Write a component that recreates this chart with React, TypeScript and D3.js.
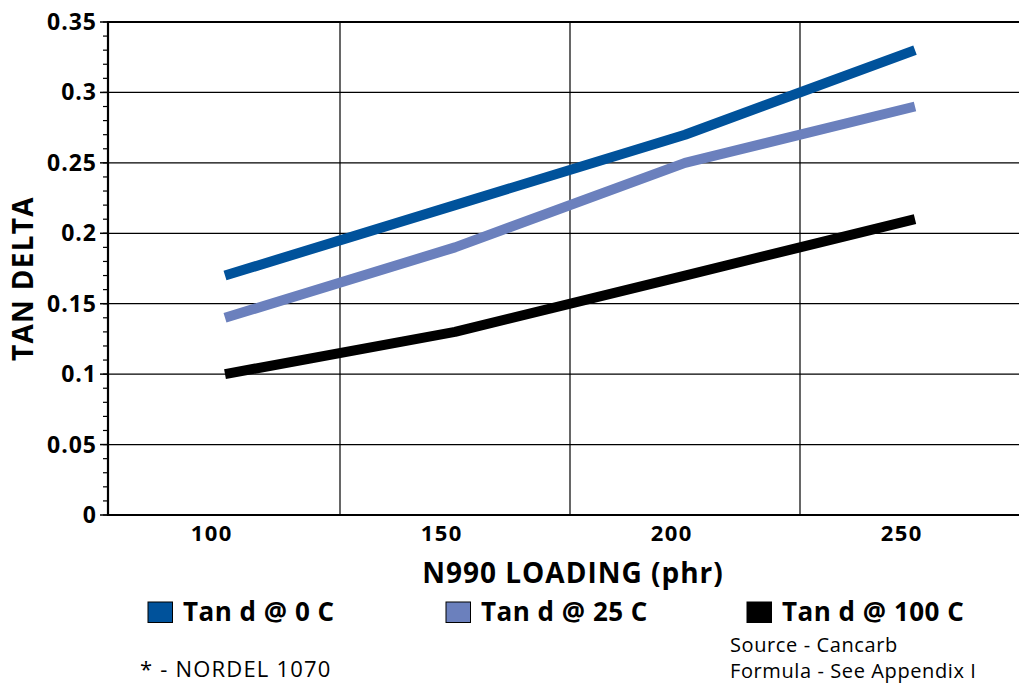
import React from "react";
import * as d3 from "d3";

const categories = ["100", "150", "200", "250"];
const tan0 = [0.17, 0.22, 0.27, 0.33];
const tan25 = [0.14, 0.19, 0.25, 0.29];
const tan100 = [0.1, 0.13, 0.17, 0.21];
const yTicks = [0, 0.05, 0.1, 0.15, 0.2, 0.25, 0.3, 0.35];
const yTickLabels = ["0", "0.05", "0.1", "0.15", "0.2", "0.25", "0.3", "0.35"];
const seriesNames = ["Tan d @ 0 C", "Tan d @ 25 C", "Tan d @ 100 C"];
const seriesColors = ["#00529b", "#6b80bd", "#000000"];

const W = 1019;
const H = 686;
const FONT = "'Open Sans', 'Liberation Sans', Arial, sans-serif";

export default function App() {
  const left = 108;
  const top = 22;
  const bottom = 515;
  const x = d3.scaleBand<string>().domain(categories).range([110, 1030]);
  const y = d3.scaleLinear().domain([0, 0.35]).range([bottom, top]);
  const line = d3
    .line<number>()
    .x((_, i) => (x(categories[i]) as number) + x.bandwidth() / 2)
    .y((d) => y(d));
  const series = [tan0, tan25, tan100];
  const minor = d3.range(0, 36).map((i) => i * 0.01);
  const legendX = [148, 446, 747];
  const tickLS = 1;
  const xLS = 1.5;

  return (
    <svg
      width={W}
      height={H}
      style={{ position: "absolute", left: 0, top: 0, background: "#fff" }}
      fontFamily={FONT}
    >
      <rect x={0} y={0} width={W} height={H} fill="#fff" />
      {yTicks.slice(1).map((t) => (
        <line key={t} x1={left} x2={W} y1={y(t)} y2={y(t)} stroke="#000" strokeWidth={1.2} />
      ))}
      {categories.slice(1).map((c) => (
        <line key={c} x1={x(c)} x2={x(c)} y1={top} y2={bottom} stroke="#000" strokeWidth={1.2} />
      ))}
      <line x1={left} x2={W} y1={top} y2={top} stroke="#000" strokeWidth={2} />
      <line x1={left} x2={left} y1={top - 1} y2={bottom + 1} stroke="#000" strokeWidth={2.2} />
      <line x1={left - 1} x2={W} y1={bottom} y2={bottom} stroke="#000" strokeWidth={2.2} />
      {minor.map((t, i) => (
        <line key={i} x1={left - 5} x2={left} y1={y(t)} y2={y(t)} stroke="#000" strokeWidth={1.2} />
      ))}
      {yTicks.map((t, i) => (
        <g key={t}>
          <line x1={left - 8} x2={left} y1={y(t)} y2={y(t)} stroke="#000" strokeWidth={1.5} />
          <text
            x={96 + tickLS}
            y={y(t) + 8}
            textAnchor="end"
            fontSize={23}
            fontWeight="bold"
            letterSpacing={tickLS}
          >
            {yTickLabels[i]}
          </text>
        </g>
      ))}
      {categories.map((c) => (
        <text
          key={c}
          x={(x(c) as number) + x.bandwidth() / 2 - 14 + xLS / 2}
          y={541}
          textAnchor="middle"
          fontSize={22}
          fontWeight="bold"
          letterSpacing={xLS}
        >
          {c}
        </text>
      ))}
      {series.map((s, i) => (
        <path
          key={i}
          d={line(s) as string}
          fill="none"
          stroke={seriesColors[i]}
          strokeWidth={10}
          strokeLinejoin="round"
        />
      ))}
      <text
        x={572.5 + 0.5}
        y={583}
        textAnchor="middle"
        fontSize={28}
        fontWeight="bold"
        letterSpacing={1}
      >
        N990 LOADING (phr)
      </text>
      <text
        transform={`translate(33,${278 + 0.6}) rotate(-90)`}
        textAnchor="middle"
        fontSize={28}
        fontWeight="bold"
        letterSpacing={1.3}
      >
        TAN DELTA
      </text>
      {seriesNames.map((n, i) => (
        <g key={n}>
          <rect
            x={legendX[i]}
            y={602}
            width={24.5}
            height={20.5}
            fill={seriesColors[i]}
            stroke="#000"
            strokeWidth={1}
          />
          <text
            x={legendX[i] + 35}
            y={621}
            fontSize={26}
            fontWeight="bold"
            letterSpacing={0.5}
          >
            {n}
          </text>
        </g>
      ))}
      <text x={730} y={652} fontSize={20} letterSpacing={0.6}>
        Source - Cancarb
      </text>
      <text x={730} y={678} fontSize={20} letterSpacing={0.6}>
        Formula - See Appendix I
      </text>
      <text x={140} y={677} fontSize={22} letterSpacing={1.2}>
        * - NORDEL 1070
      </text>
    </svg>
  );
}
